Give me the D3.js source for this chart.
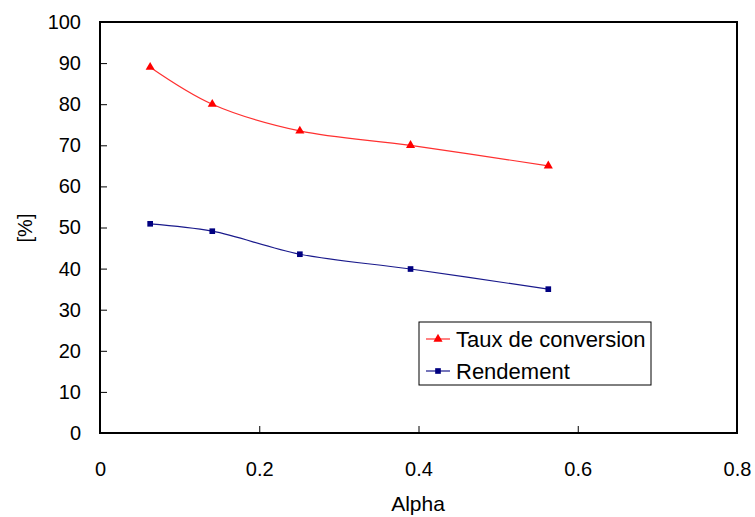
<!DOCTYPE html>
<html><head><meta charset="utf-8">
<script src="https://cdn.jsdelivr.net/npm/d3@7/dist/d3.min.js"></script>
<style>body{margin:0;background:#fff}svg{display:block}text{font-family:"Liberation Sans",Arial,sans-serif}</style>
</head><body>
<svg id="c" width="755" height="517"></svg>
<script>
const alpha = [0.063, 0.141, 0.251, 0.39, 0.563];
const conversion = [89.0, 80.0, 73.5, 70.0, 65.0];
const rendement = [50.9, 49.1, 43.5, 39.9, 35.0];
const xTicks = [0, 0.2, 0.4, 0.6, 0.8];
const yTicks = [0,10,20,30,40,50,60,70,80,90,100];
const seriesNames = ["Taux de conversion", "Rendement"];

const svg = d3.select("#c");
const L=100, R=737, T=22, B=433;
const x = d3.scaleLinear().domain([0,0.8]).range([L,R]);
const y = d3.scaleLinear().domain([0,100]).range([B,T]);

svg.append("rect").attr("x",L).attr("y",T).attr("width",R-L).attr("height",B-T)
  .attr("fill","none").attr("stroke","#000").attr("stroke-width",2);

const yAxis = svg.append("g").attr("transform",`translate(${L},0)`)
  .call(d3.axisRight(y).tickValues(yTicks).tickSize(7).tickFormat(d3.format("d")));
yAxis.select(".domain").remove();
yAxis.selectAll("text").attr("x",-19).attr("text-anchor","end").attr("font-size",20).attr("fill","#000");
yAxis.selectAll("line").attr("stroke","#000");

const xAxis = svg.append("g").attr("transform",`translate(0,${B})`)
  .call(d3.axisTop(x).tickValues(xTicks).tickSize(7).tickFormat(d=>d===0?"0":d3.format(".1f")(d)));
xAxis.select(".domain").remove();
xAxis.selectAll("text").attr("y",43).attr("dy","0").attr("font-size",20).attr("fill","#000").attr("text-anchor","middle");
xAxis.selectAll("line").attr("stroke","#000");

svg.append("text").attr("x",418).attr("y",511).attr("text-anchor","middle").attr("font-size",21).text("Alpha");
svg.append("text").attr("transform","translate(32,228) rotate(-90)").attr("text-anchor","middle").attr("font-size",20).text("[%]");

const line = d3.line().x((d,i)=>x(alpha[i])).y(d=>y(d)).curve(d3.curveCatmullRom);
const tri = d3.symbol().type(d3.symbolTriangle).size(36);
const sq = d3.symbol().type(d3.symbolSquare).size(32);

svg.append("path").attr("d",line(conversion)).attr("fill","none").attr("stroke","#ff3030").attr("stroke-width",1.2);
svg.append("path").attr("d",line(rendement)).attr("fill","none").attr("stroke","#1a1a8c").attr("stroke-width",1.2);
svg.selectAll(".t").data(conversion).enter().append("path")
  .attr("transform",(d,i)=>`translate(${x(alpha[i])},${y(d)})`).attr("d",tri).attr("fill","#ff0000");
svg.selectAll(".s").data(rendement).enter().append("path")
  .attr("transform",(d,i)=>`translate(${x(alpha[i])},${y(d)})`).attr("d",sq).attr("fill","#000080");

// legend
const lg = svg.append("g");
lg.append("rect").attr("x",419).attr("y",322).attr("width",232).attr("height",63)
  .attr("fill","#fff").attr("stroke","#000").attr("stroke-width",1);
const cols=[["#ff3030","#ff0000",tri],["#1a1a8c","#000080",sq]];
seriesNames.forEach((n,i)=>{
  const cy = 339 + i*32;
  lg.append("line").attr("x1",426).attr("x2",450).attr("y1",cy).attr("y2",cy).attr("stroke",cols[i][0]).attr("stroke-width",1.2);
  lg.append("path").attr("transform",`translate(438,${cy})`).attr("d",cols[i][2]).attr("fill",cols[i][1]);
  lg.append("text").attr("x",456).attr("y",cy+8).attr("font-size",22).text(n);
});
</script>
</body></html>
